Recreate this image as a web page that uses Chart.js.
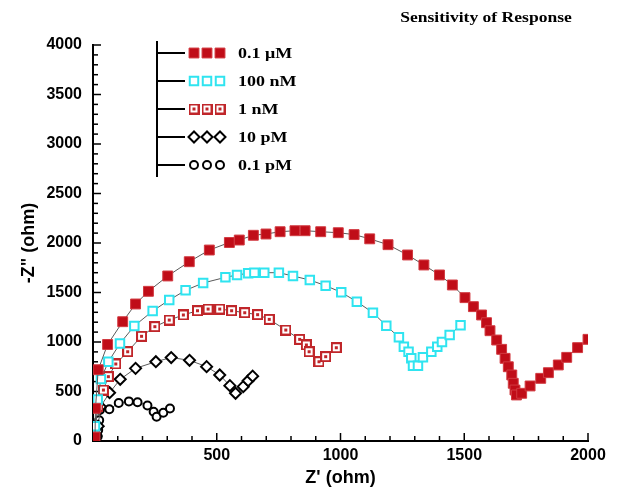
<!DOCTYPE html>
<html>
<head>
<meta charset="utf-8">
<script src="https://cdn.jsdelivr.net/npm/chart.js@4.4.1/dist/chart.umd.min.js"></script>
<style>
  html, body { margin: 0; padding: 0; background: #fff; }
</style>
</head>
<body>
<canvas id="nyquist" width="627" height="489"></canvas>
<script>
// data (Z' / -Z'' in ohm)
const seriesNames = ['0.1 \u03bcM', '100 nM', '1 nM', '10 pM', '0.1 pM'];

const zRe_01uM = [8, 10, 21, 59, 120, 172, 224, 302, 389, 470, 551, 591, 648, 699, 756, 816, 857, 920, 991, 1055, 1118, 1192, 1271, 1337, 1400, 1452, 1503, 1537, 1570, 1590, 1604, 1631, 1651, 1665, 1678, 1692, 1698, 1705, 1711, 1732, 1766, 1809, 1840, 1880, 1914, 1958, 2000];
const zIm_01uM = [40, 330, 720, 975, 1205, 1384, 1512, 1667, 1811, 1929, 2005, 2030, 2078, 2091, 2114, 2124, 2124, 2114, 2104, 2085, 2042, 1983, 1879, 1778, 1677, 1576, 1448, 1357, 1273, 1195, 1114, 1020, 926, 835, 750, 667, 583, 515, 465, 482, 556, 633, 690, 768, 845, 943, 1027];

const zRe_100nM = [5, 8, 19, 32, 62, 109, 167, 241, 308, 374, 445, 535, 582, 627, 652, 692, 751, 808, 876, 940, 1003, 1066, 1131, 1185, 1236, 1256, 1275, 1286, 1293, 1313, 1333, 1367, 1391, 1410, 1441, 1485];
const zIm_100nM = [60, 150, 420, 625, 800, 985, 1162, 1313, 1424, 1522, 1596, 1653, 1677, 1694, 1700, 1700, 1700, 1667, 1626, 1569, 1502, 1407, 1296, 1165, 1047, 953, 902, 835, 761, 761, 845, 902, 953, 1000, 1071, 1170];

const zRe_1nM = [8, 20, 42, 62, 92, 140, 196, 250, 308, 365, 422, 465, 512, 560, 613, 665, 712, 779, 835, 862, 873, 913, 940, 983];
const zIm_1nM = [100, 350, 515, 650, 778, 902, 1058, 1155, 1222, 1273, 1316, 1333, 1333, 1316, 1296, 1276, 1229, 1121, 1027, 970, 902, 801, 852, 942];

const zRe_10pM = [12, 21, 30, 67, 110, 172, 254, 316, 390, 459, 512, 553, 576, 607, 627, 645];
const zIm_10pM = [50, 150, 345, 488, 623, 734, 801, 843, 815, 751, 667, 559, 482, 549, 609, 655];

const zRe_01pM = [19, 21, 25, 28, 66, 104, 145, 180, 220, 245, 257, 284, 311];
const zIm_01pM = [45, 110, 210, 313, 320, 384, 400, 392, 358, 295, 245, 286, 328];

const xTicksMajor = [500, 1000, 1500, 2000];
const yTicksMajor = [0, 500, 1000, 1500, 2000, 2500, 3000, 3500, 4000];

function pts(xs, ys) {
    return xs.map((x, i) => ({ x: x, y: ys[i] }));
}

// dark red open square with a dot in the middle
function dotSquare() {
    const c = document.createElement('canvas');
    c.width = 11; c.height = 11;
    const g = c.getContext('2d');
    g.fillStyle = '#c0262a';
    g.fillRect(0, 0, 11, 11);
    g.fillStyle = '#fff';
    g.fillRect(2, 2, 7, 7);
    g.fillStyle = '#c0262a';
    g.fillRect(4, 4, 3, 3);
    return c;
}
const dotSquareImg = dotSquare();

const lineColor = '#5a5a5a';

const datasets = [
    { label: seriesNames[0], data: pts(zRe_01uM, zIm_01uM), pointStyle: 'rect', pointRadius: 7,
      pointBackgroundColor: '#c00d18', pointBorderColor: '#d23a40', pointBorderWidth: 1 },
    { label: seriesNames[1], data: pts(zRe_100nM, zIm_100nM), pointStyle: 'rect', pointRadius: 6,
      pointBackgroundColor: '#fff', pointBorderColor: '#2fe4f0', pointBorderWidth: 2 },
    { label: seriesNames[2], data: pts(zRe_1nM, zIm_1nM), pointStyle: dotSquareImg, pointRadius: 6,
      pointBackgroundColor: '#fff', pointBorderColor: '#c0262a', pointBorderWidth: 0 },
    { label: seriesNames[3], data: pts(zRe_10pM, zIm_10pM), pointStyle: 'rectRot', pointRadius: 5.5,
      pointBackgroundColor: '#fff', pointBorderColor: '#000', pointBorderWidth: 2 },
    { label: seriesNames[4], data: pts(zRe_01pM, zIm_01pM), pointStyle: 'circle', pointRadius: 4,
      pointBackgroundColor: '#fff', pointBorderColor: '#000', pointBorderWidth: 2 }
].map(d => Object.assign(d, {
    showLine: true,
    borderColor: lineColor,
    borderWidth: 1,
    pointHoverRadius: d.pointRadius
}));

// inward major/minor tick marks
const innerTicks = {
    id: 'innerTicks',
    beforeDatasetsDraw(chart) {
        const ctx = chart.ctx;
        const xs = chart.scales.x, ys = chart.scales.y;
        ctx.save();
        ctx.strokeStyle = '#000';
        ctx.lineWidth = 1.5;
        xs.ticks.forEach(t => {
            if (t.value === 0) return;
            const px = xs.getPixelForValue(t.value);
            const len = xTicksMajor.includes(t.value) ? 8 : 5;
            ctx.beginPath();
            ctx.moveTo(px, ys.bottom);
            ctx.lineTo(px, ys.bottom - len);
            ctx.stroke();
        });
        ys.ticks.forEach(t => {
            if (t.value === 0) return;
            const py = ys.getPixelForValue(t.value);
            const len = yTicksMajor.includes(t.value) ? 8 : 5;
            ctx.beginPath();
            ctx.moveTo(xs.left, py);
            ctx.lineTo(xs.left + len, py);
            ctx.stroke();
        });
        ctx.restore();
    }
};

function drawMarker(ctx, ds, x, y) {
    const r = ds.pointRadius;
    ctx.save();
    ctx.fillStyle = ds.pointBackgroundColor;
    ctx.strokeStyle = ds.pointBorderColor;
    ctx.lineWidth = ds.pointBorderWidth;
    if (ds.pointStyle instanceof HTMLCanvasElement) {
        ctx.drawImage(ds.pointStyle, x - ds.pointStyle.width / 2, y - ds.pointStyle.height / 2);
        ctx.restore();
        return;
    }
    ctx.beginPath();
    if (ds.pointStyle === 'rect') {
        const s = r * Math.SQRT1_2;
        ctx.rect(x - s, y - s, 2 * s, 2 * s);
    } else if (ds.pointStyle === 'rectRot') {
        ctx.moveTo(x - r, y);
        ctx.lineTo(x, y - r);
        ctx.lineTo(x + r, y);
        ctx.lineTo(x, y + r);
        ctx.closePath();
    } else {
        ctx.arc(x, y, r, 0, Math.PI * 2);
    }
    ctx.fill();
    if (ds.pointBorderWidth) ctx.stroke();
    ctx.restore();
}

// the source picture is a bit wider than tall, so stretch the serif texts
function wideText(ctx, text, x, y, sx) {
    ctx.save();
    ctx.translate(x, y);
    ctx.scale(sx, 1);
    ctx.fillText(text, 0, 0);
    ctx.restore();
}

// legend with the bracket line + chart title
const bracketLegend = {
    id: 'bracketLegend',
    afterDraw(chart) {
        const ctx = chart.ctx;
        const rows = [53, 81, 109, 137, 165];
        ctx.save();
        ctx.strokeStyle = '#000';
        ctx.lineWidth = 2;
        ctx.beginPath();
        ctx.moveTo(157, 41);
        ctx.lineTo(157, 177);
        rows.forEach(ry => {
            ctx.moveTo(157, ry);
            ctx.lineTo(185, ry);
        });
        ctx.stroke();
        chart.data.datasets.forEach((ds, i) => {
            [194, 207, 220].forEach(mx => drawMarker(ctx, ds, mx, rows[i]));
            ctx.fillStyle = '#000';
            ctx.font = 'bold 15px "Liberation Serif", "Times New Roman", serif';
            ctx.textBaseline = 'middle';
            ctx.textAlign = 'left';
            wideText(ctx, ds.label, 238, rows[i] + 1, 1.2);
        });
        ctx.font = 'bold 15px "Liberation Serif", "Times New Roman", serif';
        ctx.textAlign = 'center';
        wideText(ctx, 'Sensitivity of Response', 486, 18, 1.17);
        ctx.restore();
    }
};

const tickFont = { family: '"Liberation Sans", Arial, sans-serif', size: 16, weight: 'bold' };
const titleFont = { family: '"Liberation Sans", Arial, sans-serif', size: 18, weight: 'bold' };

new Chart(document.getElementById('nyquist'), {
    type: 'scatter',
    data: { datasets: datasets },
    options: {
        responsive: false,
        animation: false,
        layout: { padding: { top: 45, right: 39, bottom: 0, left: 0 } },
        plugins: {
            legend: { display: false },
            tooltip: { enabled: false }
        },
        scales: {
            x: {
                type: 'linear',
                min: 0,
                max: 2000,
                grid: { display: false, drawTicks: false },
                border: { display: true, color: '#000', width: 2 },
                ticks: {
                    stepSize: 100,
                    autoSkip: false,
                    maxRotation: 0,
                    padding: 5,
                    color: '#000',
                    font: tickFont,
                    callback: v => xTicksMajor.includes(v) ? String(v) : ''
                },
                title: { display: true, text: "Z' (ohm)", color: '#000', font: titleFont, padding: { top: 0, bottom: 0 } },
                afterFit: s => { s.height = 48; }
            },
            y: {
                type: 'linear',
                min: 0,
                max: 4000,
                grid: { display: false, drawTicks: false },
                border: { display: true, color: '#000', width: 2 },
                ticks: {
                    stepSize: 100,
                    autoSkip: false,
                    padding: 11,
                    color: '#000',
                    font: tickFont,
                    callback: v => yTicksMajor.includes(v) ? String(v) : ''
                },
                title: { display: true, text: '-Z" (ohm)', color: '#000', font: titleFont, padding: { top: 18, bottom: 0 } },
                afterFit: s => { s.width = 93; }
            }
        }
    },
    plugins: [innerTicks, bracketLegend]
});
</script>
</body>
</html>
